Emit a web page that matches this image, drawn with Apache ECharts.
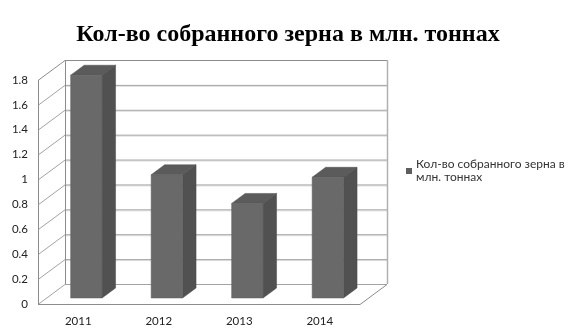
<!DOCTYPE html>
<html>
<head>
<meta charset="utf-8">
<script src="https://cdn.jsdelivr.net/npm/echarts@6/dist/echarts.min.js"></script>
<style>html,body{margin:0;padding:0;background:#fff}#c{width:576px;height:336px}</style>
</head>
<body>
<div id="c"></div>
<script>
var titleText = 'Кол-во собранного зерна в млн. тоннах';
var seriesName = 'Кол-во собранного зерна в млн. тоннах';
var categories = ['2011', '2012', '2013', '2014'];
var values = [1.79, 0.99, 0.76, 0.97];
var yTicks = [0, 0.2, 0.4, 0.6, 0.8, 1, 1.2, 1.4, 1.6, 1.8];

var DX = 27, DY = -20;          // depth of the 3D box
var BAR_FRONT = 0.3, BAR_DEPTH = 0.5, BAR_W = 0.39;

var chart = echarts.init(document.getElementById('c'), null, {renderer: 'canvas'});

function wallsRender(params, api) {
  var cs = params.coordSys;
  var gx = cs.x, gw = cs.width;
  var kids = [];
  var yTop = api.coord([0, yTicks[yTicks.length - 1]])[1];
  var y0 = api.coord([0, 0])[1];
  var gridC = '#a3a3a3', edgeC = '#8c8c8c';
  yTicks.forEach(function (t, k) {
    var y = api.coord([0, t])[1];
    var isEdge = (k === yTicks.length - 1);
    if (k > 0 && !isEdge) {
      kids.push({type: 'line', shape: {x1: gx + DX, y1: y + DY + 1.5, x2: gx + gw + DX, y2: y + DY + 1.5},
        style: {stroke: '#dedede', lineWidth: 1}});
    }
    kids.push({type: 'line', shape: {x1: gx + DX, y1: y + DY + 0.5, x2: gx + gw + DX, y2: y + DY + 0.5},
      style: {stroke: isEdge ? edgeC : gridC, lineWidth: 1}});
    kids.push({type: 'line', shape: {x1: gx, y1: y + 0.5, x2: gx + DX, y2: y + DY + 0.5},
      style: {stroke: isEdge ? edgeC : gridC, lineWidth: 1}});
  });
  kids.push({type: 'line', shape: {x1: gx + 0.5, y1: yTop, x2: gx + 0.5, y2: y0}, style: {stroke: edgeC, lineWidth: 1}});
  kids.push({type: 'line', shape: {x1: gx + DX + 0.5, y1: yTop + DY, x2: gx + DX + 0.5, y2: y0 + DY}, style: {stroke: edgeC, lineWidth: 1}});
  kids.push({type: 'line', shape: {x1: gx + gw + DX + 0.5, y1: yTop + DY, x2: gx + gw + DX + 0.5, y2: y0 + DY}, style: {stroke: '#b0b0b0', lineWidth: 1.5}});
  kids.push({type: 'line', shape: {x1: gx, y1: y0 + 0.5, x2: gx + gw, y2: y0 + 0.5}, style: {stroke: edgeC, lineWidth: 1}});
  kids.push({type: 'line', shape: {x1: gx + gw, y1: y0 + 0.5, x2: gx + gw + DX, y2: y0 + DY + 0.5}, style: {stroke: edgeC, lineWidth: 1}});
  return {type: 'group', children: kids};
}

function barRender(params, api) {
  var i = api.value(0), v = api.value(1);
  var base = api.coord([i, 0]);
  var top = api.coord([i, v]);
  var band = api.size([1, 0])[0];
  var w = band * BAR_W;
  var fx = DX * BAR_FRONT, fy = DY * BAR_FRONT;
  var bx = DX * BAR_DEPTH, by = DY * BAR_DEPTH;
  var x0 = base[0] - w / 2 + fx, x1 = x0 + w;
  var yt = top[1] + fy, yb = base[1] + fy;
  return {type: 'group', children: [
    {type: 'polygon', shape: {points: [[x1, yt], [x1 + bx, yt + by], [x1 + bx, yb + by], [x1, yb]]},
      style: {fill: '#515151', stroke: '#4a4a4a', lineWidth: 0.5}},
    {type: 'polygon', shape: {points: [[x0, yt], [x0 + bx, yt + by], [x1 + bx, yt + by], [x1, yt]]},
      style: {fill: '#5b5b5b', stroke: '#4f4f4f', lineWidth: 0.5}},
    {type: 'rect', shape: {x: x0, y: yt, width: w, height: yb - yt},
      style: {fill: '#696969', stroke: '#5f5f5f', lineWidth: 0.5}}
  ]};
}

var option = {
  backgroundColor: '#ffffff',
  animation: false,
  title: {
    text: titleText, left: 'center', top: 18,
    textStyle: {fontFamily: 'Liberation Serif', fontWeight: 'bold', fontSize: 24, color: '#000'}
  },
  legend: {
    left: 401, top: 153, orient: 'vertical',
    icon: 'rect', itemWidth: 6, itemHeight: 6, itemGap: 4,
    formatter: function () { return 'Кол-во собранного зерна в\nмлн. тоннах'; },
    textStyle: {fontFamily: 'Lato', fontSize: 12, color: '#333', lineHeight: 13, padding: [0, 0, 0, -1]},
    data: [{name: seriesName, itemStyle: {color: '#5e5e5e'}}]
  },
  grid: {left: 38, right: 216, top: 80, bottom: 32},
  xAxis: {
    type: 'category', data: categories, boundaryGap: true,
    axisLine: {show: false}, axisTick: {show: false},
    axisLabel: {fontFamily: 'Lato', fontSize: 11.5, color: '#222', margin: 11}
  },
  yAxis: {
    type: 'value', min: 0, max: 1.8, interval: 0.2,
    axisLine: {show: false}, axisTick: {show: false}, splitLine: {show: false},
    axisLabel: {fontFamily: 'Lato', fontSize: 11.5, color: '#222', margin: 10,
      formatter: function (v) { return String(Math.round(v * 10) / 10); }}
  },
  series: [
    {type: 'custom', name: '_walls', silent: true, renderItem: wallsRender, data: [[0, 0]], z: 1},
    {type: 'custom', name: seriesName, renderItem: barRender, itemStyle: {color: '#5e5e5e'},
      data: values.map(function (v, i) { return [i, v]; }), z: 2}
  ]
};
chart.setOption(option);
</script>
</body>
</html>
